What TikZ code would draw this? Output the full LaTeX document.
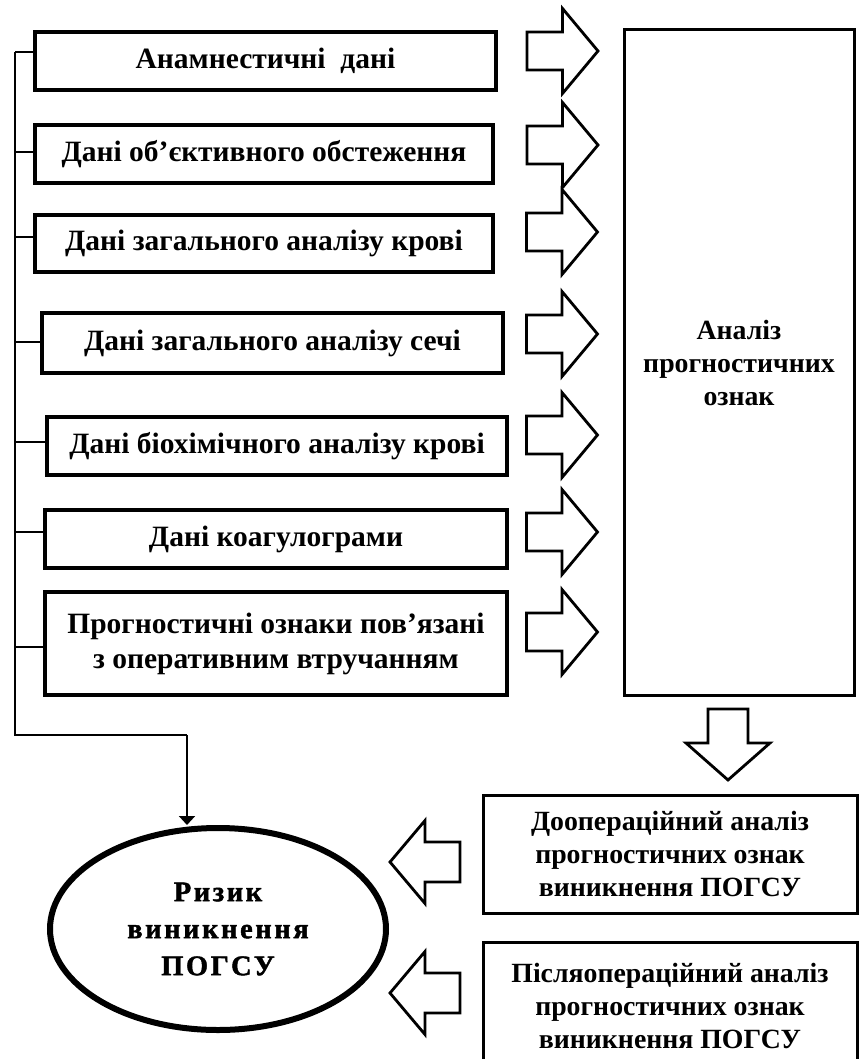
\documentclass[tikz,border=0pt]{standalone}
\usepackage{fontspec}
\setmainfont{Liberation Serif}
\newfontfamily\ellfont[LetterSpace=9,BoldFeatures={FakeBold=1.5}]{Liberation Serif}
\usetikzlibrary{shapes.geometric,arrows.meta}
\begin{document}
\begin{tikzpicture}[x=1pt,y=-1pt,
  databox/.style={draw, line width=3.5pt, inner sep=0pt, align=center,
    font=\fontsize{29.5}{35}\selectfont\bfseries},
  bigbox/.style={draw, line width=3pt, inner sep=0pt, align=center,
    font=\fontsize{27.8}{33}\selectfont\bfseries},
  arrowline/.style={draw, line width=2.8pt, line join=miter, fill=white},
  spine/.style={line width=2pt},
  rarrow/.pic={\path[arrowline] (-35.5,-19) -- (0,-19) -- (0,-42.5) -- (35.5,0) -- (0,42.5) -- (0,19) -- (-35.5,19) -- cycle;},
  larrow/.pic={\path[arrowline] (35,-20) -- (0,-20) -- (0,-41.5) -- (-35,0) -- (0,41.5) -- (0,20) -- (35,20) -- cycle;},
  darrow/.pic={\path[arrowline] (-20,-35.5) -- (-20,-1.5) -- (-42,-1.5) -- (0,35.5) -- (42,-1.5) -- (20,-1.5) -- (20,-35.5) -- cycle;}
]
\useasboundingbox (0,0) rectangle (859,1059);
\clip (0,0) rectangle (859,1059);

% data boxes
\node[databox, minimum width=461pt, minimum height=58pt] (b1) at (265.5,61) {Анамнестичні\ \ дані};
\node[databox, minimum width=458pt, minimum height=58pt] (b2) at (264,154) {Дані об’єктивного обстеження};
\node[databox, minimum width=458pt, minimum height=57pt] (b3) at (264,243.5) {Дані загального аналізу крові};
\node[databox, minimum width=461pt, minimum height=60pt] (b4) at (272.5,343) {Дані загального аналізу сечі};
\node[databox, minimum width=460pt, minimum height=58pt] (b5) at (277,446) {Дані біохімічного аналізу крові};
\node[databox, minimum width=462pt, minimum height=58pt] (b6) at (276,539) {Дані коагулограми};
\node[databox, minimum width=462pt, minimum height=103pt] (b7) at (276,643.5) {Прогностичні ознаки пов’язані\\з оперативним втручанням};

% analysis box
\node[bigbox, minimum width=230pt, minimum height=665pt] (an) at (739,362.5) {Аналіз\\прогностичних\\ознак};

% right arrows
\pic at (562.5,51) {rarrow};
\pic at (562.5,145) {rarrow};
\pic at (562,232) {rarrow};
\pic at (562,334) {rarrow};
\pic at (562,435) {rarrow};
\pic at (562,532) {rarrow};
\pic at (562,632) {rarrow};

% down arrow
\pic at (728,744.5) {darrow};

% bottom boxes
\node[bigbox, minimum width=374pt, minimum height=118pt] (pre) at (670,854) {Доопераційний аналіз\\прогностичних ознак\\виникнення ПОГСУ};
\node[bigbox, minimum width=374pt, minimum height=128pt] (post) at (670,1006) {Післяопераційний аналіз\\прогностичних ознак\\виникнення ПОГСУ};

% left arrows
\pic at (425,862) {larrow};
\pic at (425,993) {larrow};

% risk ellipse
\node[ellipse, draw, line width=6pt, minimum width=336pt, minimum height=202pt, inner sep=0pt,
  font=\fontsize{28.5}{37}\selectfont\ellfont\bfseries, align=center] (risk) at (218,929) {Ризик\\виникнення\\ПОГСУ};

% spine
\coordinate (s1) at (15,52);
\coordinate (s2) at (15,152);
\coordinate (s3) at (15,237);
\coordinate (s4) at (15,342);
\coordinate (s5) at (15,442);
\coordinate (s6) at (15,532);
\coordinate (s7) at (15,647);
\coordinate (sb) at (15,735);
\coordinate (sr) at (187,735);
\draw[spine] (s1) -- (sb) -- (sr);
\draw[spine, -{Triangle[width=16pt,length=9pt]}] (sr) -- (sr |- risk.north);
\foreach \i in {1,...,7} {
  \draw[spine] (s\i) -- (s\i -| b\i.west);
}
\end{tikzpicture}
\end{document}
